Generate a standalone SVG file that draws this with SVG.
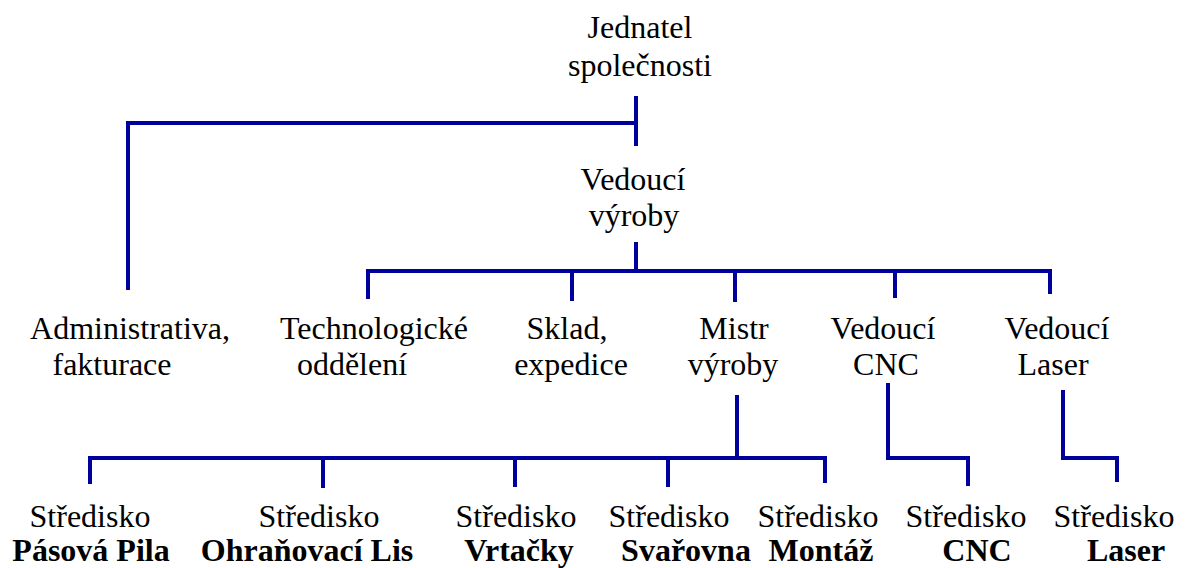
<svg xmlns="http://www.w3.org/2000/svg" width="1186" height="568" viewBox="0 0 1186 568">
<style>
text{font-family:'Liberation Serif','Times New Roman',serif;font-size:32px;fill:#000;text-anchor:middle}
.b{font-weight:bold}
#connectors path{fill:none;stroke:#00009C;stroke-width:4;stroke-linejoin:miter}
</style>
<rect width="1186" height="568" fill="#fff"/>
<g id="connectors">
<path d="M636,96 V146"/>
<path d="M636,123 H128 V290"/>
<path d="M636,242 V271"/>
<path d="M368,299 V271 H1050 V294"/>
<path d="M572,271 V301"/>
<path d="M735,271 V302"/>
<path d="M895,271 V298"/>
<path d="M737,395 V458"/>
<path d="M90,484 V458 H825 V483"/>
<path d="M323,458 V488"/>
<path d="M515,458 V487"/>
<path d="M668,458 V487"/>
<path d="M888,383 V458 H968 V486"/>
<path d="M1063,390 V458 H1117 V482"/>
</g>
<g id="jednatel"><text x="640" y="38">Jednatel</text><text x="640" y="76">společnosti</text></g>
<g id="vedouci-vyroby"><text x="633" y="190">Vedoucí</text><text x="634" y="226">výroby</text></g>
<g id="administrativa"><text x="130" y="339">Administrativa,</text><text x="112" y="375">fakturace</text></g>
<g id="technologicke"><text x="374" y="339">Technologické</text><text x="352" y="375">oddělení</text></g>
<g id="sklad"><text x="567" y="339">Sklad,</text><text x="571" y="375">expedice</text></g>
<g id="mistr"><text x="734" y="339">Mistr</text><text x="733" y="375">výroby</text></g>
<g id="vedouci-cnc"><text x="883" y="339">Vedoucí</text><text x="886" y="375">CNC</text></g>
<g id="vedouci-laser"><text x="1057" y="339">Vedoucí</text><text x="1053" y="375">Laser</text></g>
<g id="s-pila"><text x="90" y="527">Středisko</text><text class="b" x="91" y="561">Pásová Pila</text></g>
<g id="s-lis"><text x="319" y="527">Středisko</text><text class="b" x="307" y="561">Ohraňovací Lis</text></g>
<g id="s-vrtacky"><text x="516" y="527">Středisko</text><text class="b" x="519" y="561">Vrtačky</text></g>
<g id="s-svarovna"><text x="669" y="527">Středisko</text><text class="b" x="686" y="561">Svařovna</text></g>
<g id="s-montaz"><text x="818" y="527">Středisko</text><text class="b" x="821" y="561">Montáž</text></g>
<g id="s-cnc"><text x="966" y="527">Středisko</text><text class="b" x="977" y="561">CNC</text></g>
<g id="s-laser"><text x="1114" y="527">Středisko</text><text class="b" x="1126" y="561">Laser</text></g>
</svg>
